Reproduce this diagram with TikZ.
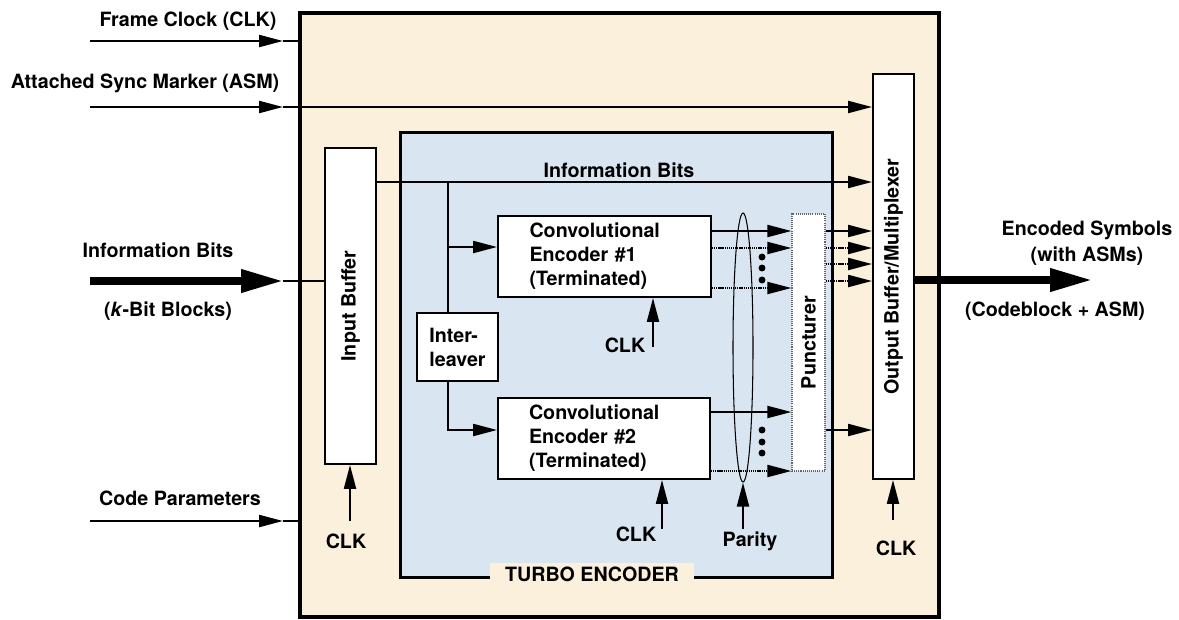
\documentclass[tikz,border=0pt]{standalone}
\usepackage{fontspec}
\setmainfont{TeX Gyre Heros}
\usetikzlibrary{positioning,arrows.meta,shapes.geometric}
\definecolor{framebg}{HTML}{FAF0DC}
\definecolor{turbobg}{HTML}{D9E5F0}
\tikzset{
  lbl/.style={font=\fontsize{11.2}{13.6}\selectfont\bfseries,inner sep=1pt},
  blk/.style={draw=black,fill=white,line width=1.1pt,inner sep=2pt,lbl},
  sig/.style={-{Triangle[length=4.8mm,width=2.4mm]},line width=1.2pt},
  dsig/.style={sig,dash pattern=on 0.7pt off 0.5pt},
  bus/.style={-{Triangle[length=8.4mm,width=4.4mm]},line width=4pt},
  wire/.style={line width=1.2pt},
  dotmark/.style={circle,fill=black,inner sep=1.4pt},
}
\begin{document}
\begin{tikzpicture}[x=0.02cm,y=-0.02cm]
  \useasboundingbox (0,0) rectangle (1179,619);
  % frame and turbo encoder
  \node[draw,line width=2.2pt,fill=framebg,minimum width=12.78cm,
    minimum height=12.08cm] (frame) at (619.5,315) {};
  \node[draw,line width=1.7pt,fill=turbobg,minimum width=8.66cm,
    minimum height=8.92cm] (turbo) at (616.5,355) {};
  \node[lbl,fill=framebg,minimum width=4.1cm,minimum height=0.46cm]
    (turbolbl) at (592,574) {TURBO ENCODER};
  % blocks
  \node[blk,minimum width=1.02cm,minimum height=6.32cm] (inbuf)
    at (350.5,306) {\rotatebox{90}{Input Buffer}};
  \node[blk,minimum width=0.82cm,minimum height=8.1cm] (outbuf)
    at (893.5,276.5) {\rotatebox{90}{Output Buffer/Multiplexer}};
  \node[blk,draw=black!60,dash pattern=on 0.6pt off 0.6pt,line width=0.7pt,
    minimum width=0.66cm,minimum height=5.14cm] (punct)
    at (808.5,342.5) {\rotatebox{90}{Puncturer}};
  \node[blk,minimum width=4.26cm,minimum height=1.62cm,text width=3cm,
    align=left] (enc1) at (604.5,256.5) {Convolutional\\Encoder \#1\\(Terminated)};
  \node[blk,minimum width=4.24cm,minimum height=1.62cm,text width=3cm,
    align=left] (enc2) at (604,438.5) {Convolutional\\Encoder \#2\\(Terminated)};
  \node[blk,minimum width=1.62cm,minimum height=1.36cm,align=left] (intl)
    at (457.5,347) {Inter-\\leaver};
  \node[draw,ellipse,line width=0.6pt,minimum width=0.4cm,
    minimum height=5.38cm,inner sep=0pt] (par) at (743,347.5) {};

  % inputs on the left
  \coordinate (clkin) at (90,41);   \coordinate (clkend) at (283,41);
  \coordinate (asmin) at (90,107);  \coordinate (asmend) at (283,107);
  \coordinate (infin) at (90,281);  \coordinate (infend) at (283,281);
  \coordinate (cpin) at (90,521);   \coordinate (cpend) at (283,521);
  \draw[sig] (clkin) -- (clkend);
  \draw[wire] (clkend) -- (clkend -| frame.west);
  \draw[sig] (asmin) -- (asmend);
  \draw[sig] (asmend) -- (asmend -| outbuf.west);
  \draw[bus] (infin) -- (infend);
  \draw[wire] (infend) -- (infend -| inbuf.west);
  \draw[sig] (cpin) -- (cpend);
  \draw[wire] (cpend) -- (cpend -| frame.west);
  \node[lbl] (clklbl) at (188,21) {Frame Clock (CLK)};
  \node[lbl] (asmlbl) at (145,83) {Attached Sync Marker (ASM)};
  \node[lbl] (inflbl) at (158,250) {Information Bits};
  \node[lbl] (blklbl) at (168,311) {(\textit{k}-Bit Blocks)};
  \node[lbl] (cplbl) at (180,498) {Code Parameters};

  % information bits and interleaver
  \coordinate (split) at (448,182);
  \draw[sig] (split -| inbuf.east) -- (split -| outbuf.west);
  \node[lbl] (iblbl) at (619,170) {Information Bits};
  \draw[wire] (split) -- (split |- intl.north);
  \coordinate (e1in) at ([yshift=1.9mm]enc1.west);
  \coordinate (e2in) at ([yshift=1.7mm]enc2.west);
  \draw[sig] (split |- e1in) -- (e1in);
  \draw[sig] (split |- intl.south) |- (e2in);

  % encoder outputs into the puncturer
  \draw[sig] (enc1.east |- 0,231) -- (punct.west |- 0,231);
  \foreach \y in {248,288} \draw[dsig] (enc1.east |- 0,\y) -- (punct.west |- 0,\y);
  \draw[sig] (enc2.east |- 0,412) -- (punct.west |- 0,412);
  \draw[dsig] (enc2.east |- 0,471) -- (punct.west |- 0,471);
  \foreach \y in {257,268,280,430,442,453} \node[dotmark] at (762,\y) {};
  % puncturer to output buffer
  \foreach \y in {231,430} \draw[sig] (punct.east |- 0,\y) -- (outbuf.west |- 0,\y);
  \foreach \y in {248,264,281} \draw[dsig] (punct.east |- 0,\y) -- (outbuf.west |- 0,\y);

  % clocks and parity
  \coordinate (ckib) at (350,521);
  \coordinate (ck1) at (653,347);
  \coordinate (ck2) at (662,529);
  \coordinate (parin) at (743,529);
  \coordinate (ckob) at (893,520);
  \draw[sig] (ckib) -- (ckib |- inbuf.south);
  \draw[sig] (ck1) -- (ck1 |- enc1.south);
  \draw[sig] (ck2) -- (ck2 |- enc2.south);
  \draw[sig] (parin) -- (par.south);
  \draw[sig] (ckob) -- (ckob |- outbuf.south);
  \node[lbl] (ckiblbl) at (346,541) {CLK};
  \node[lbl] (ck1lbl) at (625,345) {CLK};
  \node[lbl] (ck2lbl) at (636,534) {CLK};
  \node[lbl] (parlbl) at (750,541) {Parity};
  \node[lbl] (ckoblbl) at (896,548) {CLK};

  % output
  \coordinate (outend) at (1092,280);
  \draw[bus] (outbuf.east |- outend) -- (outend);
  \node[lbl,align=center] (outlbl) at (1087,243) {Encoded Symbols\\[1pt](with ASMs)};
  \node[lbl] (cblbl) at (1055,311) {(Codeblock + ASM)};
\end{tikzpicture}
\end{document}
